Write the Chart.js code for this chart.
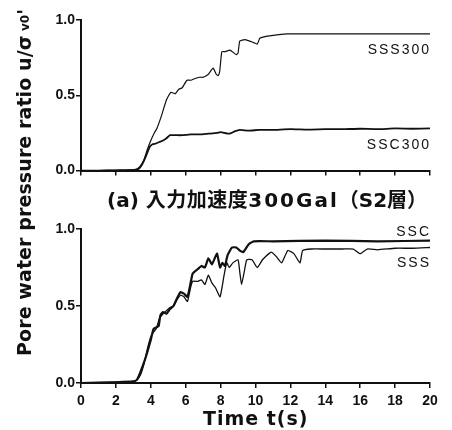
<!DOCTYPE html>
<html>
<head>
<meta charset="utf-8">
<script src="https://cdn.jsdelivr.net/npm/chart.js@4.4.1/dist/chart.umd.min.js"></script>
<style>
  body { margin: 0; background: #fff; }
  #wrap { position: relative; width: 452px; height: 430px; overflow: hidden; font-family: "Liberation Sans", Arial, sans-serif; }
  canvas { position: absolute; left: 0; }
  .txt { position: absolute; white-space: nowrap; color: #111; }
  .lab { font-size: 14px; letter-spacing: 2px; }
  #ytitle { font-family: "DejaVu Sans", sans-serif; font-weight: bold; font-size: 19px; line-height: 20px; letter-spacing: 0.1px; transform: rotate(-90deg); transform-origin: 0 0; left: 14px; top: 356px; }
  #ytitle sub { font-size: 12px; vertical-align: 2px; }
  #ptitle { left: 107px; top: 190px; font-weight: bold; font-size: 20px; line-height: 20px; font-family: "DejaVu Sans", "Noto Sans CJK JP", sans-serif; }
  #xtitle { left: 203px; top: 408px; font-family: "DejaVu Sans", sans-serif; font-weight: bold; font-size: 19px; line-height: 20px; letter-spacing: 1px; }
</style>
</head>
<body>
<div id="wrap">
  <canvas id="topChart" width="452" height="180" style="top:0"></canvas>
  <canvas id="botChart" width="452" height="212" style="top:200px"></canvas>
  <div class="txt" id="ytitle">Pore water pressure ratio u/σ<sub> v0</sub>'</div>
  <div class="txt lab" style="right:21px;top:41px">SSS300</div>
  <div class="txt lab" style="right:21px;top:136px">SSC300</div>
  <div class="txt" id="ptitle">(a) <span style="letter-spacing:0.5px">入力加速度</span><span style="letter-spacing:2px">300Gal</span>（S2層）</div>
  <div class="txt lab" style="right:21px;top:223px">SSC</div>
  <div class="txt lab" style="right:21px;top:254px">SSS</div>
  <div class="txt" id="xtitle">Time t(s)</div>
</div>
<script>
// 上段: 入力300Gal
const tSSS300 = [0, 1, 2, 3, 3.2, 3.4, 3.6, 3.8, 4.0, 4.2, 4.35, 4.6, 4.9, 5.15, 5.4, 5.6, 5.8, 6.07, 6.3, 6.5, 6.8, 7.0, 7.3, 7.57, 7.75, 7.86, 7.95, 8.07, 8.25, 8.54, 8.9, 9.0, 9.1, 9.4, 9.9, 10.1, 10.26, 10.8, 11.8, 13, 15, 18, 20];
const vSSS300 = [0, 0, 0.002, 0.004, 0.01, 0.03, 0.07, 0.14, 0.2, 0.25, 0.28, 0.36, 0.47, 0.52, 0.51, 0.54, 0.55, 0.6, 0.6, 0.61, 0.62, 0.62, 0.64, 0.68, 0.64, 0.63, 0.66, 0.79, 0.79, 0.8, 0.77, 0.78, 0.86, 0.87, 0.85, 0.84, 0.88, 0.895, 0.908, 0.908, 0.908, 0.908, 0.908];
const tSSC300 = [0, 1, 2, 3, 3.3, 3.5, 3.7, 3.95, 4.1, 4.3, 4.5, 4.7, 4.9, 5.1, 5.4, 5.8, 6.3, 6.8, 7.3, 7.8, 8.0, 8.5, 8.8, 9.1, 9.6, 10.2, 11, 12, 13, 14, 15, 16, 17, 18, 19, 20];
const vSSC300 = [0, 0, 0.002, 0.004, 0.01, 0.04, 0.09, 0.16, 0.175, 0.18, 0.19, 0.2, 0.215, 0.235, 0.235, 0.235, 0.24, 0.24, 0.245, 0.25, 0.255, 0.245, 0.26, 0.27, 0.265, 0.27, 0.27, 0.275, 0.272, 0.275, 0.275, 0.278, 0.275, 0.28, 0.278, 0.28];

// 下段
const tSSC = [0, 2, 3.0, 3.2, 3.4, 3.6, 3.8, 4.0, 4.15, 4.3, 4.45, 4.55, 4.7, 4.9, 5.1, 5.3, 5.5, 5.7, 5.9, 6.1, 6.3, 6.4, 6.7, 6.9, 7.1, 7.3, 7.5, 7.7, 7.8, 7.97, 8.1, 8.25, 8.4, 8.65, 8.9, 9.1, 9.3, 9.6, 9.9, 11, 14, 17, 20];
const vSSC = [0, 0.005, 0.01, 0.02, 0.07, 0.13, 0.2, 0.28, 0.35, 0.36, 0.37, 0.44, 0.46, 0.45, 0.48, 0.5, 0.55, 0.59, 0.58, 0.56, 0.66, 0.71, 0.74, 0.76, 0.75, 0.81, 0.77, 0.82, 0.84, 0.75, 0.78, 0.76, 0.83, 0.88, 0.88, 0.86, 0.85, 0.9, 0.92, 0.92, 0.925, 0.92, 0.925];
const tSSS = [0, 2, 3.0, 3.2, 3.4, 3.6, 3.8, 4.0, 4.15, 4.3, 4.5, 4.7, 4.9, 5.1, 5.3, 5.5, 5.7, 5.9, 6.1, 6.3, 6.4, 6.7, 6.9, 7.1, 7.3, 7.5, 7.7, 7.97, 8.2, 8.35, 8.5, 8.7, 9.0, 9.1, 9.2, 9.35, 9.5, 9.8, 10.1, 10.4, 10.9, 11.2, 11.5, 11.85, 12.2, 12.55, 12.7, 13.2, 14, 15, 15.6, 16, 16.4, 17, 18, 19, 20];
const vSSS = [0, 0.005, 0.01, 0.02, 0.05, 0.12, 0.22, 0.3, 0.33, 0.35, 0.42, 0.45, 0.47, 0.49, 0.5, 0.54, 0.57, 0.56, 0.53, 0.63, 0.66, 0.66, 0.67, 0.64, 0.7, 0.65, 0.62, 0.56, 0.7, 0.78, 0.75, 0.78, 0.8, 0.72, 0.64, 0.72, 0.8, 0.8, 0.75, 0.8, 0.85, 0.82, 0.78, 0.86, 0.84, 0.78, 0.86, 0.87, 0.87, 0.87, 0.87, 0.84, 0.87, 0.865, 0.875, 0.875, 0.88];

const xTicks = [0, 2, 4, 6, 8, 10, 12, 14, 16, 18, 20];
const yTicks = [0, 0.5, 1.0];

function pts(t, v) {
    return t.map((x, i) => ({ x: x, y: v[i] }));
}

function makeChart(id, sets, showX, padTop, xHeight) {
    const ctx = document.getElementById(id).getContext('2d');
    return new Chart(ctx, {
        type: 'line',
        data: {
            datasets: sets.map(s => ({
                data: pts(s[0], s[1]),
                borderColor: '#111',
                borderWidth: s[2],
                pointRadius: 0,
                tension: 0.15,
                fill: false
            }))
        },
        options: {
            responsive: false,
            animation: false,
            devicePixelRatio: 1,
            layout: { padding: { top: padTop, right: 22, left: 0, bottom: 0 } },
            plugins: { legend: { display: false }, tooltip: { enabled: false } },
            scales: {
                x: {
                    type: 'linear', min: 0, max: 20,
                    afterBuildTicks: sc => { sc.ticks = xTicks.map(v => ({ value: v })); },
                    afterFit: sc => { sc.height = xHeight; },
                    border: { display: true, color: '#111', width: 2 },
                    grid: { drawOnChartArea: false, drawTicks: true, tickLength: 5, color: '#111', lineWidth: 1.5 },
                    ticks: { display: showX, color: '#111', padding: 5, maxRotation: 0, font: { family: 'Liberation Sans', size: 14, weight: 'bold' } }
                },
                y: {
                    min: 0, max: 1,
                    afterBuildTicks: sc => { sc.ticks = yTicks.map(v => ({ value: v })); },
                    afterFit: sc => { sc.width = 81; },
                    border: { display: true, color: '#111', width: 2 },
                    grid: { drawOnChartArea: false, drawTicks: true, tickLength: 5, color: '#111', lineWidth: 1.5 },
                    ticks: { color: '#111', padding: 1, callback: v => v.toFixed(1), font: { family: 'Liberation Sans', size: 14, weight: 'bold' } }
                }
            }
        }
    });
}

makeChart('topChart', [[tSSS300, vSSS300, 1.2], [tSSC300, vSSC300, 1.8]], false, 20, 8);
makeChart('botChart', [[tSSC, vSSC, 2.2], [tSSS, vSSS, 1.3]], true, 29, 29);
</script>
</body>
</html>
